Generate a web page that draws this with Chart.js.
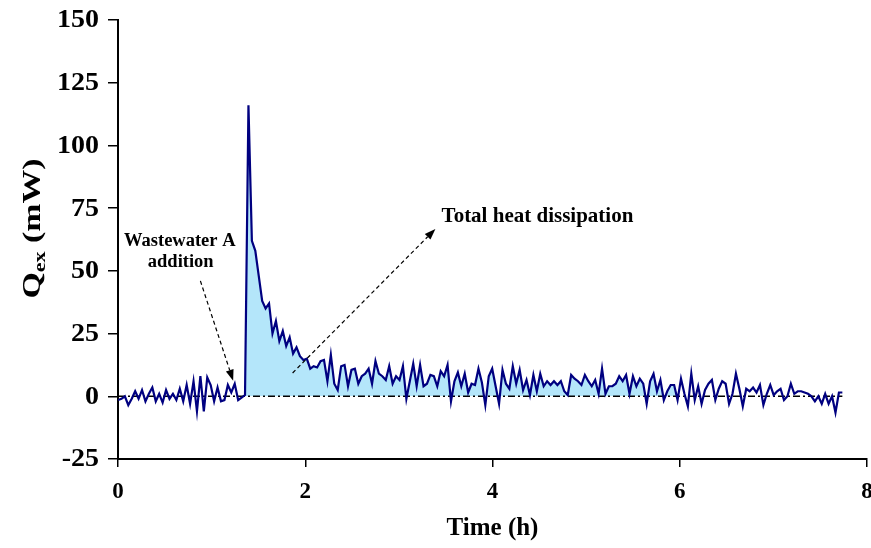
<!DOCTYPE html>
<html>
<head>
<meta charset="utf-8">
<script src="https://cdn.jsdelivr.net/npm/chart.js@4.4.0/dist/chart.umd.min.js"></script>
<style>
  html, body { margin: 0; padding: 0; background: #fff; }
</style>
</head>
<body>
<canvas id="chart" width="871" height="548"></canvas>
<script>
// readings every 2.2 min
var timeStep = 0.036667; // h
var heatFlow = [
  -1.5, -1, 0, -3.5, -1, 2, -1, 2.5, -2, 1,
  3.5, -2, 1, -2.5, 2.5, -1, 1, -1.5, 3, -2,
  4.5, -3, 6, -6, 8, -6, 7.5, 4.5, -2, 3.5,
  -2, -1.5, 4.5, 1.5, 5, -1.5, -0.5, 0.5, 116, 62,
  58, 48, 38, 35, 37, 25, 30, 22, 26, 20,
  23.5, 17, 19.5, 16, 14.5, 15, 11, 12, 11.5, 14,
  14.5, 6, 16.5, 5, 2.5, 12, 12.5, 4, 10.5, 11,
  5, 8, 9, 11, 5, 14, 9, 8, 6.5, 12,
  5, 8, 6.5, 12, -1, 6, 13, 4, 12.5, 4,
  5, 8.5, 8, 4, 10, 8, 12.5, -2, 6, 9.5,
  4, 9, 1.5, 5, 4.5, 11, 5.5, -3.5, 8, 11,
  4, -3, 10.5, 5, 3, 12, 5, 10.5, 2.5, 6.5,
  0.5, 8.5, 2, 9, 4, 6, 4.5, 6, 4.5, 6,
  2, 0.5, 8.5, 7, 6, 4.5, 8.5, 6, 4, 6.5,
  1, 11, 1, 4, 4, 5, 8, 6, 8.5, 1,
  8, 4, 7, 5, -3, 6, 9, 2, 6.5, -1.5,
  2, 4.5, 4.5, -1.5, 7, 1, -4, 9, -1.5, 4,
  -3, 2.5, 5, 6.5, -1.5, 3, 6, 5, -3, 1,
  9, 3, -4, 3, 2, 3.5, 1.5, 4.5, -3.5, 1,
  4.5, 0.5, 2, 3, -1.5, 0, 5, 1, 2, 2,
  1.5, 1, 0, -2, 0, -3, 1, -3, 0, -6.5,
  1.5, 1.5
];
// shaded part: from the addition to where the signal is back on the baseline
var fillFrom = 37;
var fillTo = 163;
var xTicks = [0, 2, 4, 6, 8];
var yTicks = [-25, 0, 25, 50, 75, 100, 125, 150];

var noteTexts = ['Wastewater A', 'addition', 'Total heat dissipation'];
var noteAt = [[0.66, 62], [0.67, 53.5], [4.48, 71.6]];
var arrowFrom = [[0.88, 46], [1.865, 9.3]];
var arrowTo = [[1.23, 6.2], [3.39, 66.7]];

var serif = '"Liberation Serif", "Times New Roman", serif';

var points = heatFlow.map(function (v, i) { return { x: i * timeStep, y: v }; });
var areaPoints = points.slice(fillFrom, fillTo + 1);
var lastT = (heatFlow.length - 1) * timeStep;

function arrow(ctx, x1, y1, x2, y2) {
  var a = Math.atan2(y2 - y1, x2 - x1);
  var head = 11;
  var ex = x2 - Math.cos(a) * head, ey = y2 - Math.sin(a) * head;
  ctx.setLineDash([4, 3]);
  ctx.beginPath();
  ctx.moveTo(x1, y1);
  ctx.lineTo(ex, ey);
  ctx.stroke();
  ctx.setLineDash([]);
  ctx.beginPath();
  ctx.moveTo(x2, y2);
  ctx.lineTo(ex + Math.sin(a) * 4, ey - Math.cos(a) * 4);
  ctx.lineTo(ex - Math.sin(a) * 4, ey + Math.cos(a) * 4);
  ctx.closePath();
  ctx.fill();
}

// slightly stretched text, the source figure is wider than plain Times
function wideText(ctx, txt, x, y, sx) {
  ctx.save();
  ctx.translate(x, y);
  ctx.scale(sx, 1);
  ctx.fillText(txt, 0, 0);
  ctx.restore();
}

var extras = {
  id: 'extras',
  afterDraw: function (chart) {
    var ctx = chart.ctx, sx = chart.scales.x, sy = chart.scales.y;
    ctx.save();
    ctx.fillStyle = '#000';
    ctx.strokeStyle = '#000';
    ctx.lineWidth = 1.2;
    ctx.textAlign = 'center';
    ctx.textBaseline = 'middle';
    for (var i = 0; i < noteTexts.length; i++) {
      ctx.font = 'bold ' + (i < 2 ? 18.5 : 21) + 'px ' + serif;
      ctx.fillText(noteTexts[i], sx.getPixelForValue(noteAt[i][0]), sy.getPixelForValue(noteAt[i][1]));
    }
    for (var j = 0; j < arrowFrom.length; j++) {
      arrow(ctx,
        sx.getPixelForValue(arrowFrom[j][0]), sy.getPixelForValue(arrowFrom[j][1]),
        sx.getPixelForValue(arrowTo[j][0]), sy.getPixelForValue(arrowTo[j][1]));
    }
    // y tick labels
    ctx.font = 'bold 25px ' + serif;
    ctx.textAlign = 'right';
    yTicks.forEach(function (v) {
      wideText(ctx, String(v), sy.left + 99, sy.getPixelForValue(v) + 1, 1.12);
    });
    // y title with subscript
    var cy = (sy.top + sy.bottom) / 2 - 11;
    ctx.translate(32, cy);
    ctx.rotate(-Math.PI / 2);
    ctx.scale(1.3, 1);
    ctx.textAlign = 'left';
    ctx.textBaseline = 'alphabetic';
    var big = 'bold 26px ' + serif, small = 'bold 17px ' + serif;
    ctx.font = big;
    var wQ = ctx.measureText('Q').width;
    ctx.font = small;
    var wS = ctx.measureText('ex').width;
    ctx.font = big;
    var wU = ctx.measureText(' (mW)').width;
    var x0 = -(wQ + wS + wU) / 2;
    ctx.fillText('Q', x0, 8);
    ctx.font = small;
    ctx.fillText('ex', x0 + wQ, 13);
    ctx.font = big;
    ctx.fillText(' (mW)', x0 + wQ + wS, 8);
    ctx.restore();
  }
};

new Chart(document.getElementById('chart'), {
  type: 'line',
  data: {
    datasets: [
      {
        data: points,
        borderColor: '#000080',
        borderWidth: 2.2,
        pointRadius: 0,
        fill: false,
        order: 0
      },
      {
        data: [{ x: 0, y: 0 }, { x: lastT, y: 0 }],
        borderColor: '#000',
        borderWidth: 1.5,
        borderDash: [7, 3, 2, 3],
        pointRadius: 0,
        fill: false,
        order: 1
      },
      {
        data: areaPoints,
        borderWidth: 0,
        borderColor: 'rgba(0,0,0,0)',
        pointRadius: 0,
        fill: { target: 'origin', above: '#b4e6fa', below: 'rgba(0,0,0,0)' },
        order: 2
      }
    ]
  },
  options: {
    responsive: false,
    animation: false,
    layout: { padding: { top: 20, right: 4, left: 0, bottom: 0 } },
    plugins: { legend: { display: false }, tooltip: { enabled: false } },
    scales: {
      x: {
        type: 'linear',
        min: 0,
        max: 8,
        afterBuildTicks: function (s) { s.ticks = xTicks.map(function (v) { return { value: v }; }); },
        afterFit: function (s) { s.height = 89; s.paddingLeft = 0; s.paddingRight = 0; },
        ticks: { color: '#000', font: { family: serif, size: 23, weight: 'bold' }, padding: 11, maxRotation: 0 },
        grid: { drawOnChartArea: false, color: '#000', lineWidth: 1.5, tickLength: 8 },
        border: { color: '#000', width: 2 },
        title: { display: true, text: 'Time (h)', color: '#000', font: { family: serif, size: 25, weight: 'bold' }, padding: { top: 0, bottom: 4 } }
      },
      y: {
        type: 'linear',
        min: -25,
        max: 150,
        afterBuildTicks: function (s) { s.ticks = yTicks.map(function (v) { return { value: v }; }); },
        afterFit: function (s) { s.width = 118; s.paddingTop = 0; s.paddingBottom = 0; },
        ticks: { display: false },
        grid: { drawOnChartArea: false, color: '#000', lineWidth: 1.5, tickLength: 10 },
        border: { color: '#000', width: 2 }
      }
    }
  },
  plugins: [extras]
});
</script>
</body>
</html>
